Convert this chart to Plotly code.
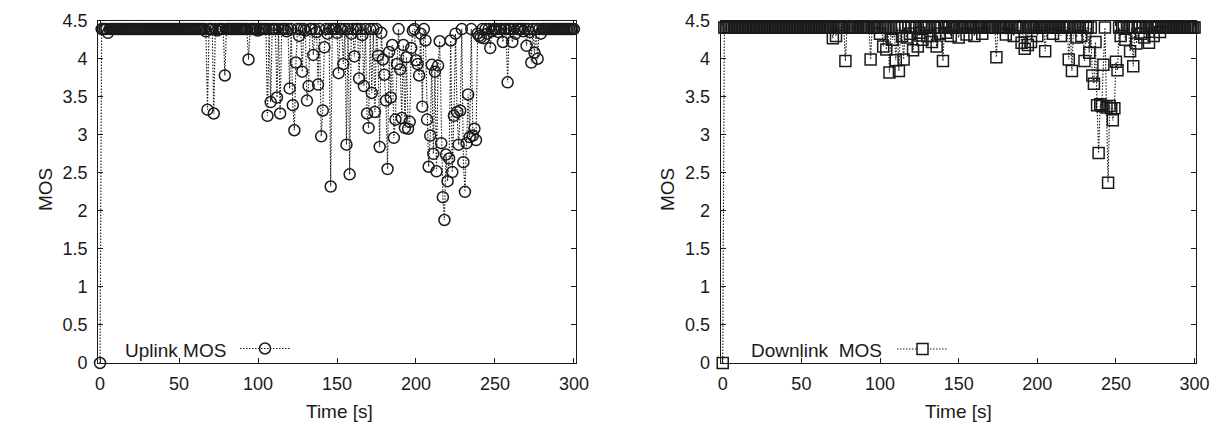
import plotly.graph_objects as go

# ---------------- data ----------------
uplink_time = list(range(0, 301))
uplink_mos = [
    0.00, 4.39, 4.39, 4.39, 4.39, 4.34, 4.39, 4.39, 4.39, 4.39, 4.39, 4.39, 4.39, 4.39, 4.39, 4.39, 4.39, 4.39, 4.39, 4.39,  # 0-19
    4.39, 4.39, 4.39, 4.39, 4.39, 4.39, 4.39, 4.39, 4.39, 4.39, 4.39, 4.39, 4.39, 4.39, 4.39, 4.39, 4.39, 4.39, 4.39, 4.39,  # 20-39
    4.39, 4.39, 4.39, 4.39, 4.39, 4.39, 4.39, 4.39, 4.39, 4.39, 4.39, 4.39, 4.39, 4.39, 4.39, 4.39, 4.39, 4.39, 4.39, 4.39,  # 40-59
    4.39, 4.39, 4.39, 4.39, 4.39, 4.39, 4.39, 4.36, 3.33, 4.39, 4.39, 4.39, 3.28, 4.39, 4.37, 4.39, 4.39, 4.39, 4.39, 3.78,  # 60-79
    4.39, 4.39, 4.39, 4.39, 4.39, 4.39, 4.39, 4.39, 4.39, 4.39, 4.39, 4.39, 4.39, 4.39, 3.99, 4.39, 4.39, 4.39, 4.39, 4.39,  # 80-99
    4.37, 4.39, 4.39, 4.39, 4.39, 4.39, 3.25, 4.39, 3.43, 4.39, 4.39, 4.39, 3.49, 4.39, 3.28, 4.39, 4.39, 4.39, 4.36, 4.39,  # 100-119
    3.61, 4.39, 3.39, 3.06, 3.95, 4.39, 4.30, 4.39, 3.83, 4.39, 4.37, 3.45, 3.64, 4.39, 4.39, 4.05, 4.39, 4.35, 3.66, 4.39,  # 120-139
    2.98, 3.32, 4.15, 4.39, 4.33, 4.39, 2.32, 4.39, 4.39, 4.39, 4.34, 3.81, 4.39, 4.39, 3.93, 4.39, 2.87, 4.39, 2.48, 4.33,  # 140-159
    4.39, 4.03, 4.39, 4.39, 3.74, 4.39, 4.31, 3.64, 4.39, 3.28, 3.09, 4.39, 3.55, 4.39, 3.30, 4.39, 4.04, 2.84, 4.34, 3.99,  # 160-179
    3.79, 3.45, 2.55, 4.09, 3.49, 4.18, 2.96, 3.20, 3.93, 4.39, 3.86, 3.22, 4.18, 3.09, 4.02, 3.08, 3.17, 4.14, 4.37, 4.39,  # 180-199
    3.98, 3.93, 3.78, 4.33, 3.37, 4.39, 4.24, 3.20, 2.58, 2.99, 3.92, 2.75, 3.83, 2.52, 3.91, 4.23, 2.89, 2.18, 1.88, 2.74,  # 200-219
    2.39, 2.69, 4.24, 2.51, 3.25, 4.33, 3.30, 2.87, 3.32, 4.39, 2.64, 2.25, 2.89, 3.53, 2.97, 4.39, 2.99, 3.08, 2.93, 4.33,  # 220-239
    4.30, 4.28, 4.39, 4.27, 4.39, 4.33, 4.39, 4.14, 4.36, 4.39, 4.39, 4.39, 4.35, 4.39, 4.39, 4.22, 4.39, 4.39, 3.69, 4.39,  # 240-259
    4.39, 4.22, 4.39, 4.33, 4.39, 4.39, 4.39, 4.39, 4.36, 4.39, 4.17, 4.39, 4.35, 3.95, 4.39, 4.08, 4.39, 4.00, 4.39, 4.33,  # 260-279
    4.39, 4.39, 4.39, 4.39, 4.39, 4.39, 4.39, 4.39, 4.39, 4.39, 4.39, 4.39, 4.39, 4.39, 4.39, 4.39, 4.39, 4.39, 4.39, 4.39,  # 280-299
    4.39,  # 300
]

downlink_time = list(range(0, 301))
downlink_mos = [
    0.00, 4.41, 4.41, 4.41, 4.41, 4.41, 4.41, 4.41, 4.41, 4.41, 4.41, 4.41, 4.41, 4.41, 4.41, 4.41, 4.41, 4.41, 4.41, 4.41,  # 0-19
    4.41, 4.41, 4.41, 4.41, 4.41, 4.41, 4.41, 4.41, 4.41, 4.41, 4.41, 4.41, 4.41, 4.41, 4.41, 4.41, 4.41, 4.41, 4.41, 4.41,  # 20-39
    4.41, 4.41, 4.41, 4.41, 4.41, 4.41, 4.41, 4.41, 4.41, 4.41, 4.41, 4.41, 4.41, 4.41, 4.41, 4.41, 4.41, 4.41, 4.41, 4.41,  # 40-59
    4.41, 4.41, 4.41, 4.41, 4.41, 4.41, 4.41, 4.41, 4.41, 4.41, 4.27, 4.41, 4.30, 4.41, 4.41, 4.41, 4.41, 4.41, 3.97, 4.41,  # 60-79
    4.41, 4.41, 4.41, 4.41, 4.41, 4.41, 4.41, 4.41, 4.41, 4.41, 4.41, 4.41, 4.41, 4.41, 3.99, 4.41, 4.41, 4.41, 4.41, 4.41,  # 80-99
    4.33, 4.41, 4.16, 4.41, 4.12, 4.41, 3.82, 4.41, 4.25, 4.41, 3.98, 4.41, 3.84, 4.41, 4.30, 3.99, 4.41, 4.28, 4.41, 4.33,  # 100-119
    4.41, 4.11, 4.41, 4.41, 4.16, 4.34, 4.41, 4.25, 4.41, 4.41, 4.30, 4.41, 4.30, 4.22, 4.41, 4.41, 4.16, 4.41, 4.33, 4.41,  # 120-139
    3.97, 4.41, 4.34, 4.41, 4.41, 4.30, 4.41, 4.41, 4.41, 4.41, 4.28, 4.41, 4.41, 4.41, 4.41, 4.32, 4.41, 4.41, 4.41, 4.41,  # 140-159
    4.30, 4.41, 4.41, 4.41, 4.41, 4.33, 4.41, 4.41, 4.41, 4.41, 4.41, 4.41, 4.41, 4.41, 4.02, 4.41, 4.41, 4.41, 4.41, 4.41,  # 160-179
    4.32, 4.41, 4.41, 4.41, 4.41, 4.30, 4.41, 4.41, 4.41, 4.41, 4.21, 4.41, 4.13, 4.41, 4.18, 4.41, 4.22, 4.41, 4.41, 4.41,  # 180-199
    4.30, 4.41, 4.41, 4.41, 4.41, 4.10, 4.41, 4.41, 4.41, 4.41, 4.33, 4.41, 4.41, 4.41, 4.41, 4.30, 4.41, 4.41, 4.41, 4.41,  # 200-219
    3.99, 4.41, 3.84, 4.41, 4.41, 4.28, 4.41, 4.41, 4.30, 4.41, 3.97, 4.41, 4.41, 4.08, 4.41, 3.78, 3.67, 4.22, 3.39, 2.76,  # 220-239
    3.40, 3.38, 3.92, 4.41, 3.36, 2.37, 3.38, 3.35, 3.19, 3.35, 3.96, 3.85, 4.41, 4.30, 4.41, 4.41, 4.25, 4.41, 4.41, 4.10,  # 240-259
    4.41, 3.90, 4.41, 4.20, 4.41, 4.41, 4.33, 4.41, 4.28, 4.41, 4.41, 4.21, 4.41, 4.41, 4.30, 4.41, 4.41, 4.41, 4.35, 4.41,  # 260-279
    4.41, 4.41, 4.41, 4.41, 4.41, 4.41, 4.41, 4.41, 4.41, 4.41, 4.41, 4.41, 4.41, 4.41, 4.41, 4.41, 4.41, 4.41, 4.41, 4.41,  # 280-299
    4.41,  # 300
]

x_ticks = [0, 50, 100, 150, 200, 250, 300]
y_ticks = [0, 0.5, 1, 1.5, 2, 2.5, 3, 3.5, 4, 4.5]
y_tick_labels = ["0", "0.5", "1", "1.5", "2", "2.5", "3", "3.5", "4", "4.5"]
series_names = ["Uplink MOS", "Downlink  MOS"]

# ---------------- figure ----------------
# The page body has an 8px default margin, so the figure is drawn 8px smaller
# and all target pixel positions are shifted by that offset.
OFF = 8
W, H = 1226 - OFF, 425 - OFF
FONT = "Liberation Sans, Arial, Helvetica, sans-serif"
INK = "#1a1a1a"
TICK_SIZE = 18
TEXT_SIZE = 19

def px(x):
    return (x - OFF) / W

def py(y):
    return (H - (y - OFF)) / H

fig = go.Figure()

line_style = dict(color=INK, width=1.1, dash="1.5px,1.5px")

fig.add_trace(go.Scatter(
    x=uplink_time, y=uplink_mos, mode="lines+markers", xaxis="x", yaxis="y",
    line=line_style,
    marker=dict(symbol="circle-open", size=11, color=INK, line=dict(width=1.5, color=INK)),
    cliponaxis=False, showlegend=False, name=series_names[0]))

fig.add_trace(go.Scatter(
    x=downlink_time, y=downlink_mos, mode="lines+markers", xaxis="x2", yaxis="y2",
    line=line_style,
    marker=dict(symbol="square-open", size=11, color=INK, line=dict(width=1.5, color=INK)),
    cliponaxis=False, showlegend=False, name=series_names[1]))

# plot-area geometry (target pixels -> paper)
L1, R1 = 98.3, 575.7
L2, R2 = 720.7, 1196.0
TOP, BOT = 20.7, 363.0
ydom = [py(BOT), py(TOP)]

axis_common = dict(
    showline=True, linecolor=INK, linewidth=1.2, mirror="ticks",
    ticks="inside", ticklen=5, tickwidth=1, tickcolor=INK,
    showgrid=False, zeroline=False, automargin=False,
    tickfont=dict(family=FONT, size=TICK_SIZE, color=INK),
)

fig.update_layout(
    width=W, height=H,
    margin=dict(l=0, r=0, t=0, b=0),
    paper_bgcolor="white", plot_bgcolor="white",
    font=dict(family=FONT, size=TEXT_SIZE, color=INK),
    xaxis=dict(domain=[px(L1), px(R1)], range=[-1.1, 301.1], tickvals=x_ticks,
               ticklabelstandoff=4, anchor="y", **axis_common),
    yaxis=dict(domain=ydom, range=[0, 4.5], tickvals=y_ticks, ticktext=y_tick_labels,
               ticklabelstandoff=6, anchor="x", **axis_common),
    xaxis2=dict(domain=[px(L2), px(R2)], range=[-1.3, 300.9], tickvals=x_ticks,
                ticklabelstandoff=4, anchor="y2", **axis_common),
    yaxis2=dict(domain=ydom, range=[0, 4.5], tickvals=y_ticks, ticktext=y_tick_labels,
                ticklabelstandoff=6, anchor="x2", **axis_common),
)

annotations = [
    dict(text="MOS", x=px(46), y=py(190), textangle=-90),
    dict(text="Time [s]", x=px(339), y=py(411)),
    dict(text="MOS", x=px(668), y=py(190), textangle=-90),
    dict(text="Time [s]", x=px(958), y=py(411)),
    dict(text=series_names[0], x=px(228), y=py(350), xanchor="right"),
    dict(text=series_names[1], x=px(884), y=py(350), xanchor="right"),
]
for a in annotations:
    a.setdefault("xanchor", "center")
    a.update(xref="paper", yref="paper", yanchor="middle", showarrow=False,
             font=dict(family=FONT, size=TEXT_SIZE, color=INK))
fig.update_layout(annotations=annotations)

# legend samples (dotted line + symbol, drawn like gnuplot's key)
shapes = [
    dict(type="line", xref="paper", yref="paper", x0=px(240), x1=px(290), y0=py(348.5), y1=py(348.5),
         line=dict(color=INK, width=1.1, dash="1.5px,1.5px")),
    dict(type="circle", xref="paper", yref="paper", xsizemode="pixel", ysizemode="pixel",
         xanchor=px(265), yanchor=py(348.5), x0=-5.5, x1=5.5, y0=-5.5, y1=5.5,
         line=dict(color=INK, width=1.5), fillcolor="rgba(0,0,0,0)"),
    dict(type="line", xref="paper", yref="paper", x0=px(897), x1=px(948), y0=py(349), y1=py(349),
         line=dict(color=INK, width=1.1, dash="1.5px,1.5px")),
    dict(type="rect", xref="paper", yref="paper", xsizemode="pixel", ysizemode="pixel",
         xanchor=px(922.5), yanchor=py(349), x0=-5.5, x1=5.5, y0=-5.5, y1=5.5,
         line=dict(color=INK, width=1.5), fillcolor="white"),
]
fig.update_layout(shapes=shapes)

fig.write_html("out.html")
